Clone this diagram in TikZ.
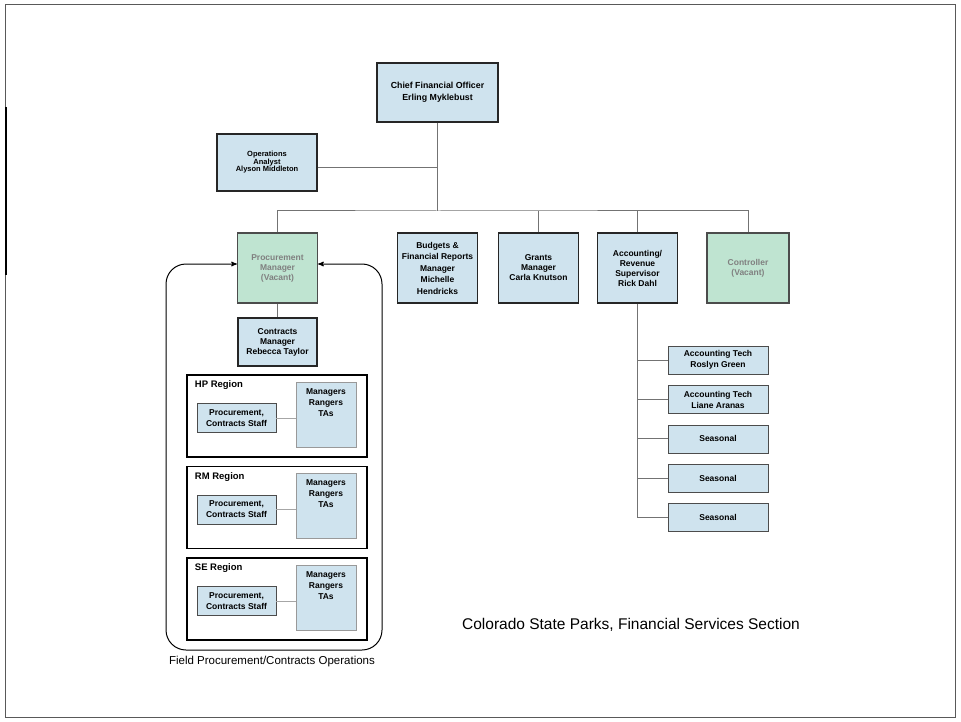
\documentclass[tikz,border=0pt]{standalone}
\usepackage{fontspec}
\setmainfont{Liberation Sans}
\usetikzlibrary{arrows}
\definecolor{boxblue}{RGB}{207,227,238}
\definecolor{boxgreen}{RGB}{191,228,209}
\tikzset{
	every box/.style={
		rectangle,
		draw=black!85,
		line width=1.4pt,
		fill=boxblue,
		align=center,
		inner sep=0pt,
		minimum width=80pt,
		minimum height=70pt,
		font=\fontsize{8.5}{10}\selectfont\bfseries
	},
	box vacant/.style={
		fill=boxgreen,
		draw=black!70,
		text=black!50
	},
	sub box/.style={
		rectangle,
		draw=black!70,
		line width=0.8pt,
		fill=boxblue,
		align=center,
		inner sep=0pt,
		font=\fontsize{8.5}{11}\selectfont\bfseries
	},
	region box/.style={
		rectangle,
		draw=black,
		line width=1.2pt,
		minimum width=180pt,
		minimum height=82pt
	},
	link/.style={draw=black!55, line width=1pt},
}

\begin{document}
\begin{tikzpicture}[x=1pt, y=-1pt, >=stealth']
\useasboundingbox (0,0) rectangle (961,722);
\draw [black!65, line width=1pt] (5,5) rectangle (955,717);
\draw [black, line width=2pt] (5.5,107) -- (5.5,275);

% top
\node [every box/.try, minimum width=121pt, minimum height=59pt,
	font=\fontsize{8.8}{12}\selectfont\bfseries] (cfo) at (437.5,92.5)
	{Chief Financial Officer\\Erling Myklebust};
\node [every box/.try, minimum width=100pt, minimum height=57pt,
	font=\fontsize{7.5}{7.5}\selectfont\bfseries] (analyst) at (267,162.5)
	{Operations\\Analyst\\Alyson Middleton};

% second row
\node [every box/.try, box vacant] (proc) at (277.5,268) {Procurement\\Manager\\(Vacant)};
\node [every box/.try, font=\fontsize{8.5}{11.5}\selectfont\bfseries] (budget) at (437.5,268)
	{Budgets \&\\Financial Reports\\Manager\\Michelle\\Hendricks};
\node [every box/.try] (grants) at (538.5,268) {Grants\\Manager\\Carla Knutson};
\node [every box/.try] (acct) at (637.5,268) {Accounting/\\Revenue\\Supervisor\\Rick Dahl};
\node [every box/.try, box vacant, minimum width=82pt] (ctrl) at (748,268) {Controller\\(Vacant)};

\coordinate (bus) at (437.5,211);
\draw [link] (cfo.south) -- (bus);
\draw [link] ([yshift=-5pt]analyst.east) -- ([yshift=-5pt]analyst.east -| cfo.south);
\draw [link] (proc.north) |- (bus) -| (ctrl.north);
\foreach \n in {grants,acct}
	\draw [link] (\n.north) -- (\n.north |- bus);

% procurement side
\node [every box/.try, minimum width=79pt, minimum height=48pt] (contracts) at (277.5,342)
	{Contracts\\Manager\\Rebecca Taylor};
\draw [link] (proc.south) -- (contracts.north);

\foreach \r [count=\i] in {HP,RM,SE} {
	\node [region box] (region-\i) at (277,{416+(\i-1)*91.5}) {};
	\node [anchor=west, font=\fontsize{9.5}{11}\selectfont\bfseries] (label-\i)
		at ([xshift=5pt, yshift=-11pt]region-\i.north west) {\r\ Region};
	\node [sub box, minimum width=79pt, minimum height=29pt] (staff-\i) at (236.5,{418+(\i-1)*91.5})
		{Procurement,\\Contracts Staff};
	\node [sub box, draw=black!40, line width=0.6pt, minimum width=60pt, minimum height=65pt,
		label={[anchor=north, align=center, font=\fontsize{8.5}{11}\selectfont\bfseries, yshift=-3pt]north:{Managers\\Rangers\\TAs}}]
		(mgr-\i) at (326,{414.5+(\i-1)*91.5}) {};
	\draw [link, black!35] (staff-\i.east) -- (staff-\i.east -| mgr-\i.west);
}

\coordinate (field-ne) at (382,264);
\coordinate (field-se) at (382,650);
\coordinate (field-sw) at (166,650);
\coordinate (field-nw) at (166,264);
\draw [<->, line width=1pt, rounded corners=20pt] ([yshift=4pt]proc.east) -- (field-ne)
	-- (field-se) -- (field-sw) -- (field-nw) -- ([yshift=4pt]proc.west);
\node [font=\fontsize{11.5}{13}\selectfont] (field) at (272,662) {Field Procurement/Contracts Operations};

% accounting side
\foreach \l [count=\i] in {{Accounting Tech\\Roslyn Green},{Accounting Tech\\Liane Aranas},
		Seasonal,Seasonal,Seasonal}
	\node [sub box, minimum width=100pt, minimum height=28pt] (sub-\i) at (718,{321+\i*39.3}) {\l};
\draw [link] (acct.south) -- (acct.south |- sub-5.west);
\foreach \i in {1,...,5}
	\draw [link] (sub-\i.west) -- (sub-\i.west -| acct.south);

\node [font=\fontsize{15.5}{18}\selectfont] (title) at (631,625) {Colorado State Parks, Financial Services Section};

\end{tikzpicture}
\end{document}
